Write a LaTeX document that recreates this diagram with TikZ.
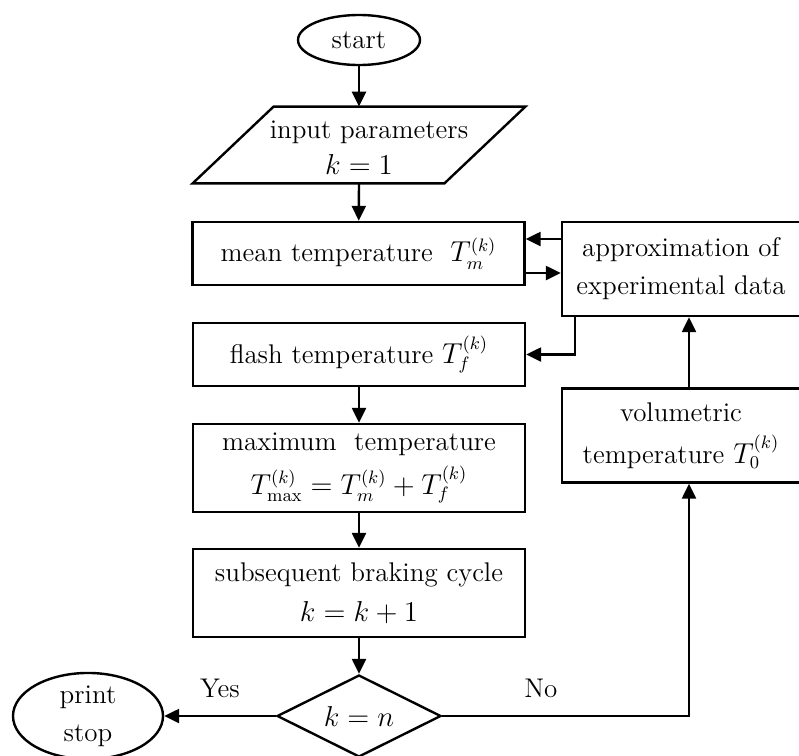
\documentclass[tikz,border=0pt]{standalone}
\usetikzlibrary{shapes.geometric}
\usetikzlibrary{arrows.meta}
\usetikzlibrary{calc}

\begin{document}
\begin{tikzpicture}[x=0.5pt,y=-0.5pt]
\tikzset{
every node/.style = {font=\fontsize{13.5}{19}\selectfont},
proc/.style = {rectangle,draw,
               line width=1.2pt,
               align=center,
               minimum width=166pt,
               minimum height=31.5pt,
               inner sep=0pt},
side/.style = {rectangle,draw,
               line width=1.2pt,
               align=center,
               minimum width=119pt,
               minimum height=47pt,
               inner sep=0pt},
term/.style = {ellipse,draw,
               line width=1.2pt,
               align=center,
               inner sep=0pt},
io/.style = {rectangle,
             align=center,
             minimum width=125.5pt,
             minimum height=38pt,
             inner sep=0pt},
cond/.style = {diamond,draw,
               line width=1.2pt,
               aspect=2,
               minimum width=82pt,
               minimum height=41pt,
               inner sep=0pt},
flow/.style = {line width=1.2pt,
               -{Triangle[length=7.5pt,width=7pt]}}
}

\useasboundingbox (0,0) rectangle (799,756);

\node[term, minimum width=61pt, minimum height=25pt] at (359,40)    (start)  {start};
\node[io]                                           at (359,148)   (input)  {\hspace*{10pt}input parameters\\[-1pt] $k=1$};
\node[proc]                                         at (358.5,253.5) (mean) {mean temperature\ \ $T_m^{(k)}$};
\node[side]                                         at (681,269)   (approx) {approximation of\\ experimental data};
\node[proc]                                         at (359,354.5) (flash)  {flash temperature $T_f^{(k)}$};
\node[proc, minimum height=44pt]                    at (359,468)   (max)    {maximum\ \ temperature\\[3pt] $T_{\max}^{(k)}=T_m^{(k)}+T_f^{(k)}$};
\node[proc, minimum height=44pt]                    at (359,593)   (cycle)  {subsequent braking cycle\\[1pt] $k=k+1$};
\node[cond]                                         at (359,716)   (test)   {$k=n$};
\node[term, minimum width=75pt, minimum height=43pt] at (88,716)   (stop)   {print\\ stop};
\node[side]                                         at (681,435.5) (vol)    {volumetric\\[2pt] temperature $T_0^{(k)}$};

\draw[line width=1.2pt, line join=miter]
  ([shift={(20.25pt,1.5pt)}]input.north west) -- ([shift={(20.25pt,1.5pt)}]input.north east)
  -- ([shift={(-20.25pt,1.5pt)}]input.south east) -- ([shift={(-20.25pt,1.5pt)}]input.south west) -- cycle;

\draw[flow] (start) -- ([yshift=1.5pt]input.north);
\draw[flow] ([yshift=1.5pt]input.south) -- (mean);
\draw[flow] (flash) edge (max) (max) edge (cycle) (cycle) edge (test);
\draw[flow] (approx.west |- 0,239) -- (mean.east |- 0,239);
\draw[flow] (mean.east |- 0,273) -- (approx.west |- 0,273);
\draw[flow] (approx.south -| 575,0) |- (flash.east);
\draw[flow] (test.west) -- node[above=5pt] {Yes} (stop.east);
\draw[flow] (test.east) -| node[pos=0.2, above=5pt] {No} ([xshift=4pt]vol.south);
\draw[flow] ([xshift=4pt]vol.north) -- ([xshift=4pt]approx.south);
\end{tikzpicture}
\end{document}
